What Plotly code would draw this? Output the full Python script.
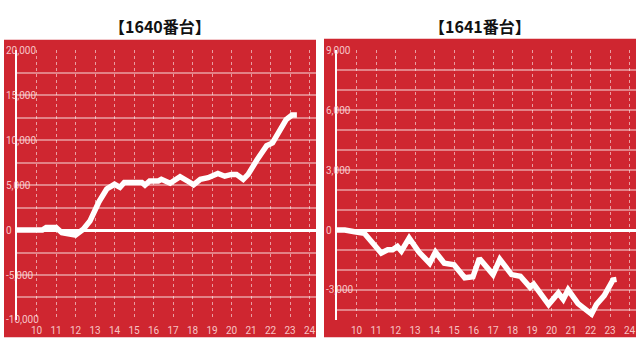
import plotly.graph_objects as go

# ---- data ----
title_left = "【1640番台】"
title_right = "【1641番台】"

hours_1640 = [9.0, 10.3, 10.5, 11.0, 11.3, 11.7, 12.0, 12.4, 12.74, 13.2, 13.6, 14.0, 14.28, 14.5,
              15.4, 15.56, 15.8, 16.25, 16.4, 16.85, 17.36, 17.87, 18.05, 18.4, 18.8, 19.3, 19.65,
              20.0, 20.25, 20.6, 20.85, 21.3, 21.8, 22.1, 22.8, 23.1, 23.35]
diff_1640 = [0, 0, 300, 300, -300, -400, -550, 100, 1000, 3150, 4580, 5100, 4760, 5300,
             5300, 5000, 5470, 5470, 5650, 5220, 5940, 5300, 5040, 5650, 5830, 6300, 6000,
             6200, 6200, 5650, 6200, 7800, 9400, 9700, 12300, 12800, 12800]

hours_1641 = [9.0, 9.4, 9.9, 10.4, 11.27, 11.6, 11.85, 12.1, 12.3, 12.7, 13.2, 13.75, 14.05, 14.5,
              15.0, 15.55, 15.97, 16.3, 17.0, 17.35, 17.95, 18.4, 18.9, 19.08, 19.85, 20.35, 20.6,
              20.85, 21.36, 21.7, 22.05, 22.3, 22.7, 23.15, 23.33]
diff_1641 = [0, 0, -80, -160, -1150, -990, -990, -820, -1050, -400, -1100, -1660, -1100, -1660,
             -1740, -2390, -2340, -1420, -2230, -1470, -2230, -2310, -2870, -2710, -3730, -3150, -3470,
             -2990, -3680, -3920, -4210, -3730, -3280, -2500, -2470]

x_tick_vals = list(range(10, 25))
x_tick_text = [str(v) for v in x_tick_vals]

y1_tick_vals = list(range(-10000, 20001, 2500))
y1_tick_text = [f"{v:,}" if v % 5000 == 0 else "" for v in y1_tick_vals]
y2_tick_vals = list(range(-4000, 9001, 1000))
y2_tick_text = [f"{v:,}" if v % 3000 == 0 else "" for v in y2_tick_vals]

# ---- styling ----
RED = "#cf2630"
GRID = "rgba(255,255,255,0.42)"
VGRID = "rgba(255,255,255,0.55)"
LABEL = "rgba(255,225,225,0.85)"
W, H = 640, 352

fig = go.Figure()
fig.add_trace(go.Scatter(x=hours_1640, y=diff_1640, mode="lines",
                         line=dict(color="white", width=5.5), xaxis="x", yaxis="y",
                         hoverinfo="skip", showlegend=False))
fig.add_trace(go.Scatter(x=hours_1641, y=diff_1641, mode="lines",
                         line=dict(color="white", width=5.5), xaxis="x2", yaxis="y2",
                         hoverinfo="skip", showlegend=False))

ydom = [(H - 325) / H, (H - 46) / H]
xdom1 = [17 / W, 316 / W]
xdom2 = [337 / W, 636 / W]
tickfont = dict(family="Roboto, sans-serif", size=10, color=LABEL)

def xaxis_cfg(dom, anchor):
    return dict(domain=dom, anchor=anchor, range=[9, 24.33], tickvals=x_tick_vals,
                ticktext=x_tick_text, showgrid=True, gridcolor=VGRID, gridwidth=1,
                griddash="dot", zeroline=False, showline=False, ticks="",
                ticklabelstandoff=3, tickfont=tickfont, fixedrange=True)

def yaxis_cfg(rng, tv, tt, anchor):
    return dict(domain=ydom, anchor=anchor, range=rng, tickvals=tv, ticktext=tt,
                showgrid=True, gridcolor=GRID, gridwidth=1.5, zeroline=True,
                zerolinecolor="white", zerolinewidth=2.5, showline=True,
                linecolor="white", linewidth=2, ticks="", ticklabelposition="inside",
                ticklabeloverflow="allow", ticklabelstandoff=-12, tickfont=tickfont,
                fixedrange=True)

fig.update_layout(
    width=W, height=H, margin=dict(l=0, r=0, t=0, b=0),
    paper_bgcolor="white", plot_bgcolor=RED,
    xaxis=xaxis_cfg(xdom1, "y"), xaxis2=xaxis_cfg(xdom2, "y2"),
    yaxis=yaxis_cfg([-10000, 20000], y1_tick_vals, y1_tick_text, "x"),
    yaxis2=yaxis_cfg([-4500, 9000], y2_tick_vals, y2_tick_text, "x2"),
    shapes=[
        dict(type="rect", xref="paper", yref="paper", layer="below",
             x0=4 / W, x1=316 / W, y0=(H - 343) / H, y1=(H - 35) / H,
             fillcolor=RED, line=dict(width=0)),
        dict(type="rect", xref="paper", yref="paper", layer="below",
             x0=324 / W, x1=636 / W, y0=(H - 343) / H, y1=(H - 34) / H,
             fillcolor=RED, line=dict(width=0)),
    ],
    annotations=[
        dict(text=f"<b>{title_left}</b>", xref="paper", yref="paper", x=160 / W, y=(H - 21) / H,
             xanchor="center", yanchor="middle", showarrow=False,
             font=dict(family="Noto Sans CJK JP", size=16, color="#111111")),
        dict(text=f"<b>{title_right}</b>", xref="paper", yref="paper", x=480 / W, y=(H - 21) / H,
             xanchor="center", yanchor="middle", showarrow=False,
             font=dict(family="Noto Sans CJK JP", size=16, color="#111111")),
    ],
)

fig.write_html("out.html", config={"displayModeBar": False})
